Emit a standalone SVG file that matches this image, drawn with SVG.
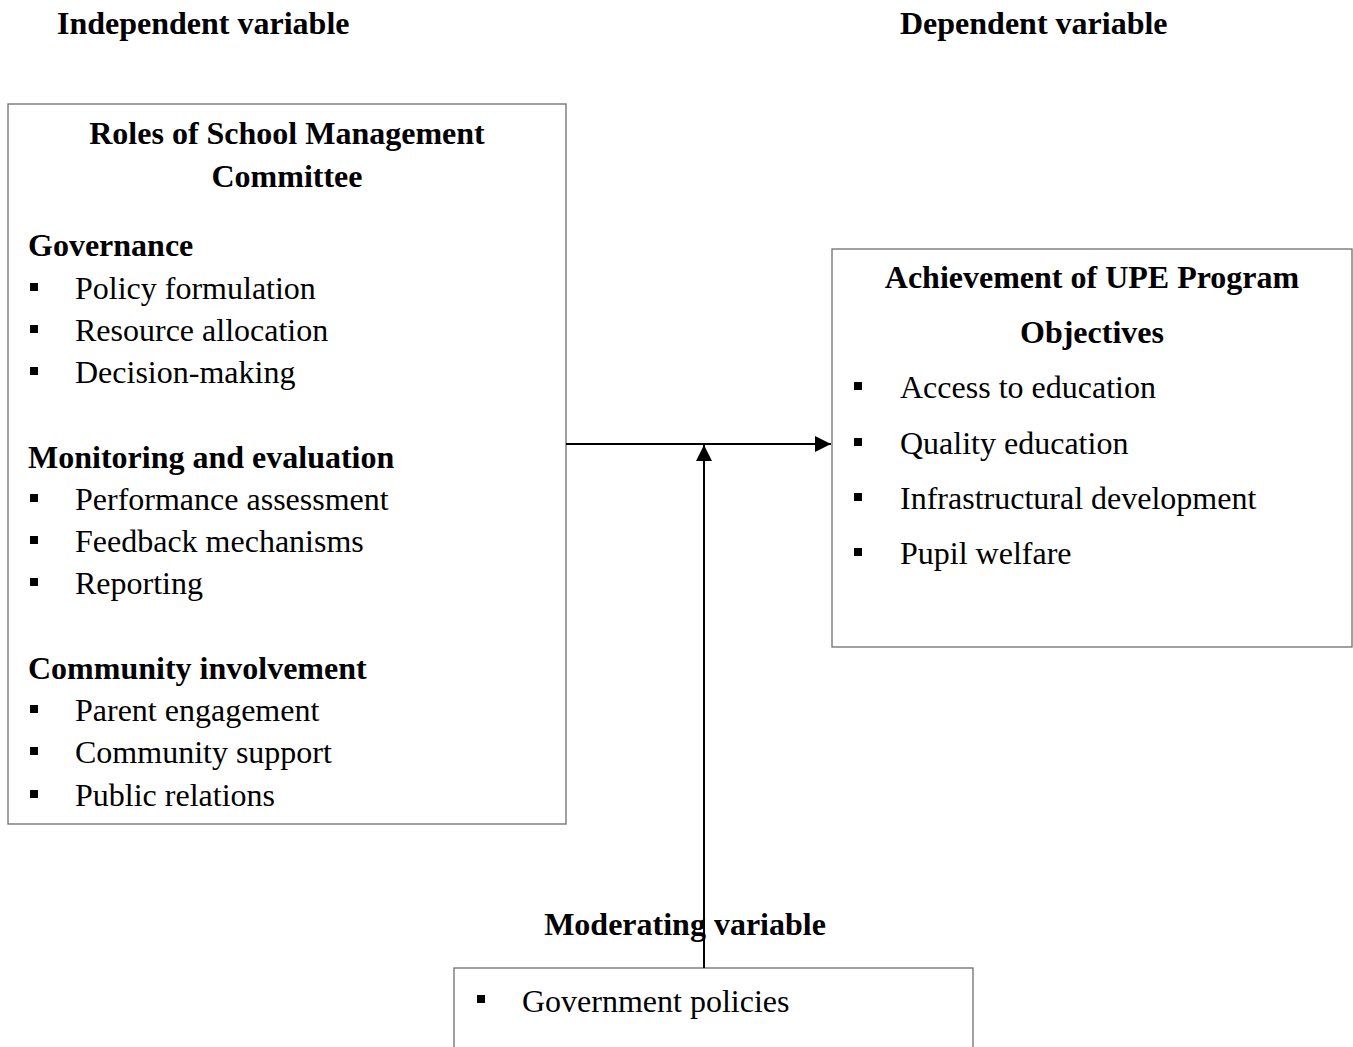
<svg xmlns="http://www.w3.org/2000/svg" width="1353" height="1047" viewBox="0 0 1353 1047">
<style>
text{font-family:"Liberation Serif","Times New Roman",serif;fill:#000;font-size:32px}
.b{font-weight:bold}
.m{text-anchor:middle}
.box{fill:#fff;stroke:#6e6e6e;stroke-width:1.3}
.blt{fill:#000}
.ln{stroke:#000;stroke-width:2;fill:none}
</style>
<defs>
<marker id="ah" viewBox="0 0 10 10" refX="10" refY="5" markerWidth="16" markerHeight="16" markerUnits="userSpaceOnUse" orient="auto">
<path d="M0,0 L10,5 L0,10 Z" fill="#000"/>
</marker>
</defs>
<rect width="1353" height="1047" fill="#fff"/>
<text class="b" x="57" y="34">Independent variable</text>
<text class="b" x="900" y="34">Dependent variable</text>

<g id="iv">
<rect class="box" x="8" y="104" width="558" height="720"/>
<text class="b m" x="287" y="144">Roles of School Management</text>
<text class="b m" x="287" y="187">Committee</text>
<text class="b" x="28" y="256">Governance</text>
<rect class="blt" x="30" y="283" width="8" height="8"/><text x="75" y="299">Policy formulation</text>
<rect class="blt" x="30" y="325" width="8" height="8"/><text x="75" y="341">Resource allocation</text>
<rect class="blt" x="30" y="367" width="8" height="8"/><text x="75" y="383">Decision-making</text>
<text class="b" x="28" y="468">Monitoring and evaluation</text>
<rect class="blt" x="30" y="494" width="8" height="8"/><text x="75" y="510">Performance assessment</text>
<rect class="blt" x="30" y="536" width="8" height="8"/><text x="75" y="552">Feedback mechanisms</text>
<rect class="blt" x="30" y="578" width="8" height="8"/><text x="75" y="594">Reporting</text>
<text class="b" x="28" y="679">Community involvement</text>
<rect class="blt" x="30" y="705" width="8" height="8"/><text x="75" y="721">Parent engagement</text>
<rect class="blt" x="30" y="747" width="8" height="8"/><text x="75" y="763">Community support</text>
<rect class="blt" x="30" y="790" width="8" height="8"/><text x="75" y="806">Public relations</text>
</g>

<g id="dv">
<rect class="box" x="832" y="249" width="520" height="398"/>
<text class="b m" x="1092" y="288">Achievement of UPE Program</text>
<text class="b m" x="1092" y="343">Objectives</text>
<rect class="blt" x="854" y="382" width="8" height="8"/><text x="900" y="398">Access to education</text>
<rect class="blt" x="854" y="438" width="8" height="8"/><text x="900" y="454">Quality education</text>
<rect class="blt" x="854" y="493" width="8" height="8"/><text x="900" y="509">Infrastructural development</text>
<rect class="blt" x="854" y="548" width="8" height="8"/><text x="900" y="564">Pupil welfare</text>
</g>

<g id="mv">
<text class="b m" x="685" y="935">Moderating variable</text>
<rect class="box" x="454" y="968" width="519" height="100"/>
<rect class="blt" x="477" y="995" width="8" height="8"/><text x="522" y="1012">Government policies</text>
</g>

<g id="connectors">
<line class="ln" x1="566" y1="444" x2="831" y2="444" marker-end="url(#ah)"/>
<line class="ln" x1="704" y1="968" x2="704" y2="445" marker-end="url(#ah)"/>
</g>
</svg>
